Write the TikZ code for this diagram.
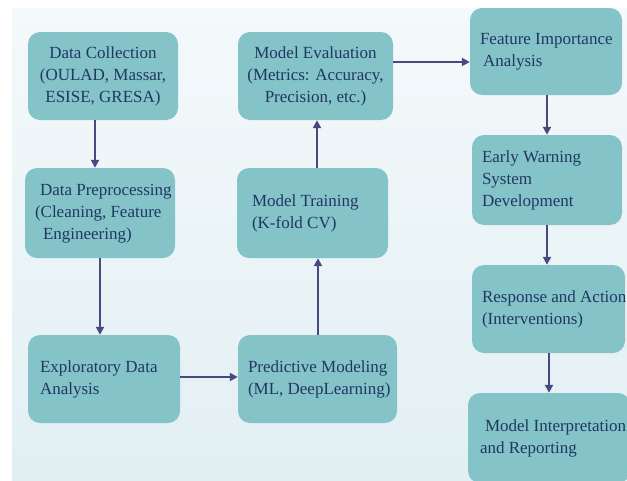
\documentclass[tikz,border=0pt]{standalone}
\usepackage{fontspec}
\setmainfont{Liberation Serif}
\usetikzlibrary{arrows.meta}
\definecolor{bgtop}{RGB}{244,249,251}
\definecolor{bgbot}{RGB}{226,239,243}
\definecolor{boxfill}{RGB}{132,195,199}
\definecolor{txt}{RGB}{32,56,98}
\definecolor{arrowc}{RGB}{74,72,126}
\newcommand\tbl[3]{\makebox[#1pt][l]{\hspace*{#2pt}\begin{tabular}{@{}l@{}}#3\end{tabular}}}
\newcommand\tbc[1]{\begin{tabular}{@{}c@{}}#1\end{tabular}}
\tikzset{
  stagebox/.style={fill=boxfill, rounded corners=12pt, inner sep=0pt, text=txt,
    font=\fontsize{17}{22}\selectfont},
  flow/.style={draw=arrowc, line width=2pt, -{Triangle[length=8pt,width=8pt]}}
}
\begin{document}
\begin{tikzpicture}[x=1pt,y=-1pt]
\useasboundingbox (0,0) rectangle (627,480);
\fill[white] (0,0) rectangle (627,480);
\shade[top color=bgtop, bottom color=bgbot] (12,8) rectangle (627,480);

\node[stagebox, minimum width=150pt, minimum height=88pt] (dc) at (103,76)
  {\raisebox{8pt}{\tbc{Data Collection\\(OULAD, Massar,\\ESISE, GRESA)}}};
\node[stagebox, minimum width=150pt, minimum height=90pt] (dp) at (100,213)
  {\raisebox{-2pt}{\tbl{150}{10}{\hspace*{5pt}Data Preprocessing\\(Cleaning, Feature\\\hspace*{8pt}Engineering)}}};
\node[stagebox, minimum width=152pt, minimum height=88pt] (eda) at (104,379)
  {\tbl{152}{12}{Exploratory Data\\Analysis}};
\node[stagebox, minimum width=159pt, minimum height=88pt] (pm) at (317.5,379)
  {\tbl{159}{10}{Predictive Modeling\\(ML, DeepLearning)}};
\node[stagebox, minimum width=151pt, minimum height=90pt] (mt) at (312.5,213)
  {\raisebox{-2pt}{\tbl{151}{15}{Model Training\\(K-fold CV)}}};
\node[stagebox, minimum width=155pt, minimum height=88pt] (me) at (315.5,76)
  {\tbc{Model Evaluation\\(Metrics: Accuracy,\\Precision, etc.)}};
\node[stagebox, minimum width=152pt, minimum height=87pt] (fi) at (546,51.5)
  {\raisebox{-2pt}{\tbl{152}{10}{Feature Importance\\\hspace*{3pt}Analysis}}};
\node[stagebox, minimum width=150pt, minimum height=90pt] (ew) at (547,180)
  {\tbl{150}{10}{Early Warning\\System\\Development}};
\node[stagebox, minimum width=153pt, minimum height=88pt] (ra) at (548.5,309)
  {\tbl{153}{10}{Response and Action\\(Interventions)}};
\node[stagebox, minimum width=162pt, minimum height=90pt] (mi) at (549,438)
  {\raisebox{-3pt}{\tbl{162}{12}{\hspace*{5pt}Model Interpretation\\and Reporting}}};

\draw[flow] ([xshift=-8pt]dc.south) -- ([xshift=-5pt]dp.north);
\draw[flow] (dp.south) -- ([xshift=-4pt]eda.north);
\draw[flow] ([yshift=2pt]eda.east) -- ([yshift=2pt]pm.west);
\draw[flow] ([xshift=0.5pt]pm.north) -- ([xshift=5.5pt]mt.south);
\draw[flow] ([xshift=4.5pt]mt.north) -- ([xshift=1.5pt]me.south);
\draw[flow] ([yshift=14pt]me.east) -- ([yshift=-10.5pt]fi.west);
\draw[flow] ([xshift=1pt]fi.south) -- (ew.north);
\draw[flow] (ew.south) -- ([xshift=-1.5pt]ra.north);
\draw[flow] ([xshift=0.5pt]ra.south) -- (mi.north);
\end{tikzpicture}
\end{document}
